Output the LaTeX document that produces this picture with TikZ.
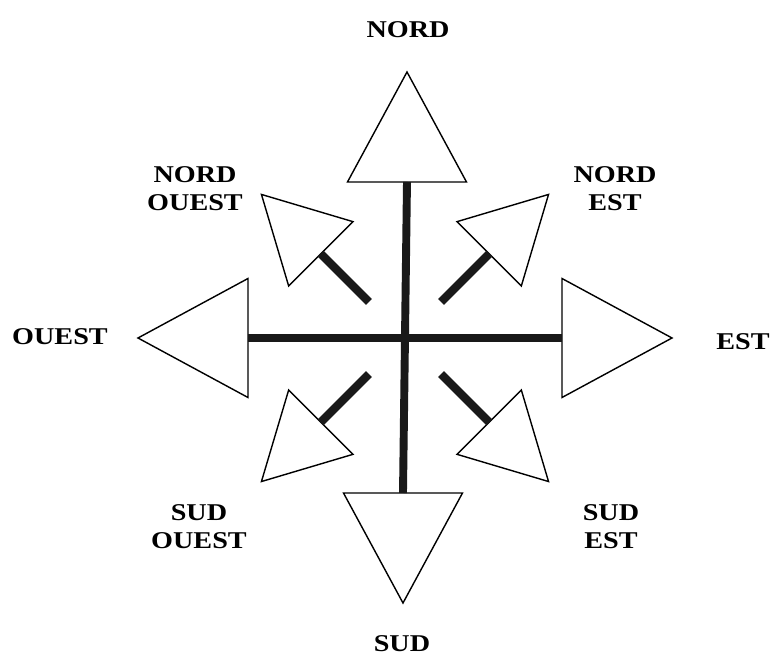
\documentclass[tikz,border=0pt]{standalone}
\usepackage{fontspec}
\setmainfont[FakeStretch=1.17]{Liberation Serif}
\usepackage{tikz}
\usetikzlibrary{shapes.geometric, positioning}

\begin{document}
\begin{tikzpicture}[
        headnode/.style={isosceles triangle, isosceles triangle stretches, draw=black, fill=white, line width=0.8pt, inner sep=0pt, outer sep=0pt, minimum width=2.38cm, minimum height=2.2cm},
        smallheadnode/.style={headnode, minimum width=1.82cm, minimum height=1.68cm},
        labelnode/.style={align=center, inner sep=0pt, font={\fontsize{13.7}{16}\selectfont\bfseries}},
        barline/.style={line width=4.5pt, color=black!90},
        stubline/.style={line width=4.8pt, color=black!90}
    ]
        \useasboundingbox (-8.1,-6.38) rectangle (7.3,6.76);

        % Centre
        \coordinate (centre) at (0,0);

        % Main heads
        \node[headnode, rotate=90, anchor=west] (nord) at (0.04,3.12) {};
        \node[headnode, rotate=-90, anchor=west] (sud) at (-0.04,-3.1) {};
        \node[headnode, rotate=180, anchor=west] (ouest) at (-3.14,0) {};
        \node[headnode, anchor=west] (est) at (3.14,0) {};

        % Diagonal heads
        \node[smallheadnode, rotate=135, anchor=west] (nordouest) at (135:2.38) {};
        \node[smallheadnode, rotate=45, anchor=west] (nordest) at (45:2.38) {};
        \node[smallheadnode, rotate=-135, anchor=west] (sudouest) at (-135:2.38) {};
        \node[smallheadnode, rotate=-45, anchor=west] (sudest) at (-45:2.38) {};

        % Cross
        \draw[barline] (nord.west) -- (sud.west);
        \draw[barline] (ouest.west) -- (est.west);

        % Diagonal stubs
        \coordinate (nordouest-pied) at (135:1.02);
        \coordinate (nordest-pied) at (45:1.02);
        \coordinate (sudouest-pied) at (-135:1.02);
        \coordinate (sudest-pied) at (-45:1.02);
        \draw[stubline] (nordouest-pied) -- (nordouest.west);
        \draw[stubline] (nordest-pied) -- (nordest.west);
        \draw[stubline] (sudouest-pied) -- (sudouest.west);
        \draw[stubline] (sudest-pied) -- (sudest.west);

        % Labels
        \node[labelnode] (nord-txt) at (0.06,6.16) {NORD};
        \node[labelnode] (sud-txt) at (-0.06,-6.12) {SUD};
        \node[labelnode] (ouest-txt) at (-6.9,0.02) {OUEST};
        \node[labelnode] (est-txt) at (6.76,-0.08) {EST};
        \node[labelnode] (nordouest-txt) at (-4.2,2.98) {NORD\\OUEST};
        \node[labelnode] (nordest-txt) at (4.2,2.98) {NORD\\EST};
        \node[labelnode] (sudouest-txt) at (-4.12,-3.78) {SUD\\OUEST};
        \node[labelnode] (sudest-txt) at (4.12,-3.78) {SUD\\EST};
    \end{tikzpicture}
\end{document}
